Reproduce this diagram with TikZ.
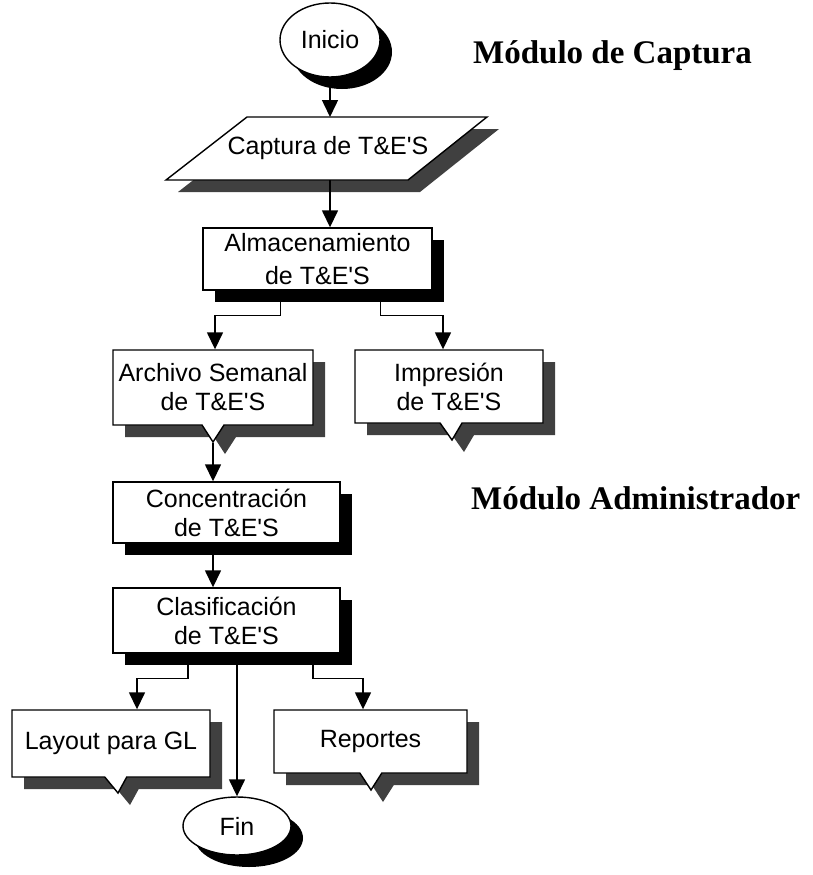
\documentclass[tikz,border=0pt]{standalone}
\usepackage{fontspec}
\setmainfont{Liberation Sans}
\newfontfamily\titlefont{Liberation Serif}
\usetikzlibrary{shapes.geometric,shapes.callouts,shadows,arrows.meta}
\newcommand{\te}{T\&E\textquotesingle S}

\begin{document}
\begin{tikzpicture}[x=1pt,y=-1pt,
  box/.style={draw=black, line width=1.4pt, fill=white, inner sep=0pt, align=center,
    font=\fontsize{25}{29}\selectfont},
  solidshadow/.style={drop shadow={shadow xshift=12pt, shadow yshift=-12pt, opacity=1, fill=black}},
  greyshadow/.style={drop shadow={shadow xshift=12pt, shadow yshift=-12pt, opacity=1, fill=black!75}},
  term/.style={box, ellipse, solidshadow},
  proc/.style={box, rectangle, solidshadow},
  doc/.style={box, rectangle callout, callout pointer width=22pt, greyshadow},
  arr/.style={line width=1.5pt, -{Triangle[width=16pt,length=17pt]}},
  title/.style={font=\titlefont\bfseries\fontsize{33}{38}\selectfont, anchor=west, inner sep=0pt}
]
\useasboundingbox (0,0) rectangle (813,875);

% module headings
\node[title] (capmod) at (473,56) {Módulo de Captura};
\node[title] (admmod) at (471,498) {Módulo Administrador};

% start terminal
\node[term, minimum width=100pt, minimum height=74pt] (inicio) at (330,40) {Inicio};

% input parallelogram
\coordinate (capBL) at (166,180);
\coordinate (capTL) at (247,117);
\coordinate (capTR) at (487,117);
\coordinate (capBR) at (408,180);
\path[draw=black, line width=1.4pt, fill=white, greyshadow]
  (capBL) -- (capTL) -- (capTR) -- (capBR) -- cycle;
\node[font=\fontsize{25}{29}\selectfont, inner sep=0pt] (captura) at (328,148) {Captura de \te};
\coordinate (capIn) at (330,117);
\coordinate (capOut) at (330,180);

% processes
\node[proc, minimum width=229pt, minimum height=62pt, font=\fontsize{25}{33}\selectfont]
  (alm) at (317.5,259) {Almacenamiento\\de \te};
\node[proc, minimum width=227pt, minimum height=61pt] (conc) at (226.5,512.5) {Concentración\\de \te};
\node[proc, minimum width=227pt, minimum height=65pt] (clas) at (226.5,620.5) {Clasificación\\de \te};

% documents
\node[doc, minimum width=200pt, minimum height=75pt, callout absolute pointer={(213,442)}]
  (arch) at (213,387.5) {Archivo Semanal\\de \te};
\node[doc, minimum width=188pt, minimum height=73pt, callout absolute pointer={(452,440)}]
  (imp) at (449,386.5) {Impresión\\de \te};
\node[doc, minimum width=198pt, minimum height=67pt, callout absolute pointer={(118,793)}]
  (lay) at (111,743.5) {Layout para GL};
\node[doc, minimum width=193pt, minimum height=63pt, callout absolute pointer={(371,790)}]
  (rep) at (370.5,741.5) {Reportes};

% end terminal
\node[term, minimum width=108pt, minimum height=58pt] (fin) at (237,826) {Fin};

% connectors
\draw[arr] (inicio.south) -- (capIn);
\draw[arr] (capOut) -- (capOut |- alm.north);
\draw[arr] ([xshift=-37pt]alm.south) -- ++(0,25) -| ([xshift=2pt]arch.north);
\draw[arr] ([xshift=63pt]alm.south) -- ++(0,25) -| ([xshift=-6pt]imp.north);
\draw[arr] (arch.pointer) -- (arch.pointer |- conc.north);
\draw[arr] ([xshift=-13.5pt]conc.south) -- ([xshift=-13.5pt]clas.north);
\draw[arr] ([xshift=-38.5pt]clas.south) -- ++(0,25) -| ([xshift=26pt]lay.north);
\draw[arr] ([xshift=10.5pt]clas.south) -- (fin.north);
\draw[arr] ([xshift=86.5pt]clas.south) -- ++(0,25) -| ([xshift=-7.5pt]rep.north);
\end{tikzpicture}
\end{document}
